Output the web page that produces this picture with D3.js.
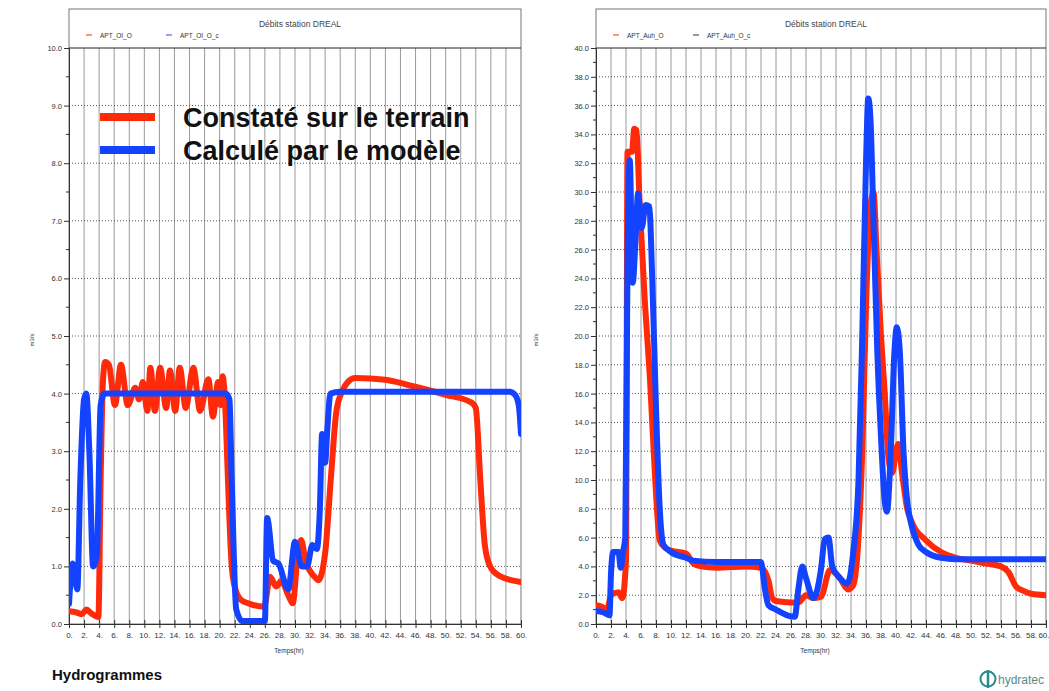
<!DOCTYPE html>
<html><head><meta charset="utf-8">
<script src="https://cdn.jsdelivr.net/npm/d3@7"></script>
<style>body{margin:0;background:#fff;font-family:"Liberation Sans",Arial,sans-serif}</style>
</head><body><svg id="c" width="1049" height="691"></svg>
<script>
// ---- data ----
const xTicks = d3.range(0, 61, 2);
const leftYTicks = d3.range(0, 10.01, 1);
const rightYTicks = d3.range(0, 40.01, 2);
const leftLegend = ["APT_OI_O", "APT_OI_O_c"];
const rightLegend = ["APT_Auh_O", "APT_Auh_O_c"];
const bigLegend = ["Constaté sur le terrain", "Calculé par le modèle"];

const leftObserved = [[0,0.22],[1,0.2],[1.7,0.17],[2.3,0.25],[3,0.18],[3.9,0.12],[4.2,2.5],[4.5,4.2],[4.8,4.55],[5.3,4.5],[6.1,3.8],[6.9,4.5],[7.8,3.8],[8.8,4.1],[9.3,3.9],[9.8,4.2],[10.4,3.7],[10.8,4.45],[11.4,3.7],[12.1,4.45],[12.9,3.75],[13.4,4.4],[14.1,3.7],[14.7,4.45],[15.5,3.75],[16.5,4.45],[17.4,3.7],[18.5,4.25],[19.1,3.6],[19.8,4.2],[20.1,3.8],[20.4,4.3],[20.8,3.6],[21.1,2.5],[21.6,1.0],[21.9,0.7],[22.8,0.42],[24,0.35],[25.9,0.3],[26.7,0.82],[27.5,0.65],[28.2,0.75],[29.1,0.5],[29.7,0.36],[30.3,1.1],[30.8,1.46],[31.4,1.1],[32.6,0.82],[33.1,0.76],[34,1.23],[34.8,2.6],[35.5,3.7],[36.3,4.05],[37,4.2],[38,4.27],[42,4.24],[45,4.15],[50,3.98],[53.5,3.84],[54,3.75],[54.6,2.5],[55.2,1.37],[55.9,1.0],[57.2,0.83],[60,0.73]];

const leftComputed = [[0,0.35],[0.5,1.05],[1.1,0.6],[1.5,2.5],[2,3.9],[2.3,4.0],[2.7,3.0],[3.2,1.0],[3.7,1.2],[4.2,3.8],[4.7,4.0],[20.8,4.0],[21.3,3.9],[21.6,2.5],[22.2,0.25],[23,0.05],[26,0.05],[26.3,1.84],[27.1,1.1],[27.8,1.05],[29.1,0.6],[30,1.43],[30.9,1.0],[31.6,1.0],[32.3,1.37],[32.9,1.3],[33.3,2.0],[33.6,3.3],[34,2.8],[34.3,3.4],[34.7,4.0],[36,4.03],[58.5,4.03],[59.2,3.98],[59.7,3.8],[60,3.3]];

const rightObserved = [[0,1.3],[0.8,1.2],[1.5,1.0],[2,2.0],[3,2.2],[3.5,1.8],[4,4.4],[4.2,32.8],[4.8,32.8],[5.1,34.4],[5.4,34.3],[5.8,29.4],[6.5,22.5],[7.2,17],[7.9,10],[8.5,5.8],[9.2,5.3],[10,5.1],[12,4.9],[13,4.2],[14,4.0],[16,3.9],[20,4.0],[22,3.9],[23,3.0],[23.5,1.8],[24,1.6],[26,1.5],[27,1.5],[28,2.0],[29,1.8],[30,1.9],[31.2,3.75],[32.5,3.2],[33.6,2.4],[34.3,2.7],[35,6],[35.5,12],[36,22],[36.5,28.5],[37,30],[37.4,26],[38,20],[38.5,16],[39,11.5],[39.5,10.5],[40,12],[40.3,12.5],[40.8,10.5],[41.5,8],[42,7.2],[44,5.8],[46,5.0],[48,4.6],[50,4.4],[52,4.2],[54,4.0],[55,3.6],[56,2.6],[57,2.3],[58,2.1],[60,2.0]];

const rightComputed = [[0,0.9],[1,0.8],[1.8,0.6],[2.0,3.5],[2.3,5.0],[3,5.0],[3.3,3.9],[3.6,5.0],[3.9,6],[4.2,25],[4.5,32.2],[4.9,23.7],[5.3,27],[5.6,29.9],[6.1,27.5],[6.6,29.1],[7.1,29],[7.5,24],[8,15],[8.5,8],[9,5.5],[10,5.0],[12,4.6],[13,4.4],[16,4.3],[22,4.3],[22.5,2.5],[23,1.3],[24,1.0],[25.5,0.6],[26.5,0.5],[27,2.5],[27.5,4.0],[28,3.2],[29,1.8],[30,3.8],[30.5,5.9],[31,6.0],[31.5,4.0],[32.5,3.2],[33.5,2.8],[34.3,5],[35,10],[35.5,20],[36,32],[36.3,36.5],[36.6,35],[37,28],[37.5,19],[38,13],[38.5,8.5],[38.8,7.8],[39.3,12],[39.8,19],[40.1,20.6],[40.5,19],[41,12],[41.5,8.5],[42,7],[43,5.5],[44,5.0],[46,4.6],[48,4.5],[60,4.5]];

// ---- drawing ----
const svg = d3.select("#c");
const RED = "#ff2a0a", BLUE = "#1443ff";

function panel(o) {
  const g = svg.append("g");
  const x = d3.scaleLinear().domain([0, 60]).range([o.x0, o.x1]);
  const y = d3.scaleLinear().domain([0, o.ymax]).range([o.y0, o.y1]);
  g.append("rect").attr("x", o.x0).attr("y", o.top).attr("width", o.x1 - o.x0).attr("height", o.y0 - o.top)
    .attr("fill", "#fff").attr("stroke", "#777").attr("stroke-width", 1);
  g.append("g").selectAll("line").data(xTicks.slice(1, -1)).join("line")
    .attr("x1", d => x(d)).attr("x2", d => x(d)).attr("y1", o.y1).attr("y2", o.y0)
    .attr("stroke", "#9a9a9a").attr("stroke-width", 1);
  g.append("g").selectAll("line").data(o.yTicks.slice(1, -1)).join("line")
    .attr("x1", o.x0).attr("x2", o.x1).attr("y1", d => y(d)).attr("y2", d => y(d))
    .attr("stroke", "#555").attr("stroke-width", 1).attr("stroke-dasharray", "1,2");
  g.append("line").attr("x1", o.x0).attr("x2", o.x1).attr("y1", o.y1).attr("y2", o.y1).attr("stroke", "#222");
  const ya = d3.axisLeft(y).tickValues(o.yTicks).tickSize(5).tickFormat(d3.format(".1f"));
  const yg = g.append("g").attr("transform", `translate(${o.x0},0)`).call(ya);
  yg.select(".domain").attr("stroke", "#333");
  yg.selectAll(".tick line").attr("stroke", "#333");
  yg.selectAll("text").attr("font-size", 7.5).attr("fill", "#333").attr("x", -7)
    .attr("font-family", "Liberation Sans, Arial");
  g.append("g").selectAll("line").data(o.yTicks.slice(0, -1).map(d => d + o.ystep / 2)).join("line")
    .attr("x1", o.x0 - 3).attr("x2", o.x0).attr("y1", d => y(d)).attr("y2", d => y(d)).attr("stroke", "#333");
  const xa = d3.axisBottom(x).tickValues(xTicks).tickSize(4).tickFormat(d => d + ".");
  const xg = g.append("g").attr("transform", `translate(0,${o.y0})`).call(xa);
  xg.select(".domain").attr("stroke", "#333");
  xg.selectAll(".tick line").attr("stroke", "#333").attr("y1", -4);
  xg.selectAll("text").attr("font-size", 8).attr("fill", "#333").attr("y", 8)
    .attr("font-family", "Liberation Sans, Arial");
  if (o.lastEnd) xg.selectAll("text").filter(d => d === 60).attr("text-anchor", "end").attr("dx", 3);
  g.append("text").attr("x", (o.x0 + o.x1) / 2 - 6).attr("y", 653).attr("text-anchor", "middle")
    .attr("font-size", 6.5).attr("fill", "#333").text("Temps(hr)");
  g.append("text").attr("transform", `translate(${o.ylabX},340) rotate(-90)`).attr("text-anchor", "middle")
    .attr("font-size", 6).attr("fill", "#333").text("m3/s");
  g.append("text").attr("x", o.titleX).attr("y", 27).attr("text-anchor", "middle")
    .attr("font-size", 8.5).attr("fill", "#444").text("Débits station DREAL");
  const lg = [[RED, o.legend[0], 0], [o.legend2Color, o.legend[1], 80]];
  lg.forEach(([c, t, dx]) => {
    g.append("line").attr("x1", o.x0 + 17 + dx).attr("x2", o.x0 + 23 + dx).attr("y1", 35).attr("y2", 35)
      .attr("stroke", c).attr("stroke-width", 1);
    g.append("text").attr("x", o.x0 + 31 + dx).attr("y", 38).attr("font-size", 6.5).attr("fill", "#333").text(t);
  });
  const line = d3.line().x(d => x(d[0])).y(d => y(d[1])).curve(d3.curveMonotoneX);
  const clip = "clip" + o.id;
  svg.append("clipPath").attr("id", clip).append("rect").attr("x", o.x0).attr("y", o.y1 - 10)
    .attr("width", o.x1 - o.x0).attr("height", o.y0 - o.y1 + 10);
  const sg = g.append("g").attr("clip-path", `url(#${clip})`);
  sg.append("path").datum(o.red).attr("d", line).attr("fill", "none").attr("stroke", RED)
    .attr("stroke-width", 6).attr("stroke-linejoin", "round").attr("stroke-linecap", "round");
  sg.append("path").datum(o.blue).attr("d", line).attr("fill", "none").attr("stroke", BLUE)
    .attr("stroke-width", 6).attr("stroke-linejoin", "round").attr("stroke-linecap", "round");
  return {x, y};
}

panel({id: "L", x0: 69, x1: 521, top: 9, y0: 624, y1: 48, ymax: 10, ystep: 1, yTicks: leftYTicks,
  ylabX: 34, titleX: 300, legend: leftLegend, legend2Color: "#3344ff", red: leftObserved, blue: leftComputed});
panel({id: "R", x0: 596, x1: 1046, top: 9, y0: 624, y1: 48, ymax: 40, ystep: 2, yTicks: rightYTicks, lastEnd: true,
  ylabX: 538, titleX: 826, legend: rightLegend, legend2Color: "#333", red: rightObserved, blue: rightComputed});

// big legend
const bl = svg.append("g");
[[RED, 117, bigLegend[0]], [BLUE, 150, bigLegend[1]]].forEach(([c, yy, t]) => {
  bl.append("line").attr("x1", 100).attr("x2", 155).attr("y1", yy).attr("y2", yy)
    .attr("stroke", c).attr("stroke-width", 8);
  bl.append("text").attr("x", 183).attr("y", yy + 10).attr("font-size", 27).attr("font-weight", "bold")
    .attr("fill", "#111").text(t);
});

// footer
svg.append("text").attr("x", 52).attr("y", 680).attr("font-size", 15).attr("font-weight", "bold")
  .attr("fill", "#111").text("Hydrogrammes");
const logo = svg.append("g");
logo.append("circle").attr("cx", 988).attr("cy", 679).attr("r", 7.5).attr("fill", "none").attr("stroke", "#2a8a8a").attr("stroke-width", 2);
logo.append("line").attr("x1", 988).attr("x2", 988).attr("y1", 670).attr("y2", 688).attr("stroke", "#2a8a8a").attr("stroke-width", 2.5);
logo.append("text").attr("x", 998).attr("y", 684).attr("font-size", 12).attr("fill", "#5a8a8a").text("hydratec");
</script></body></html>
